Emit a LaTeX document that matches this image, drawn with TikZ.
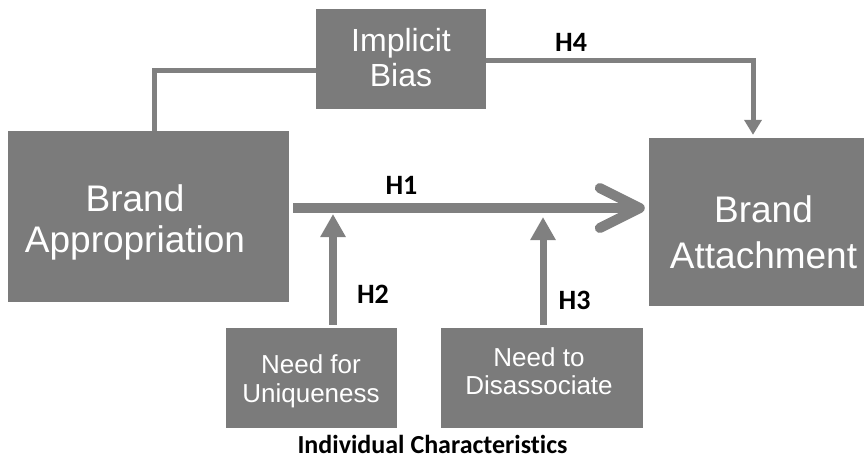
\documentclass[tikz,border=0pt]{standalone}
\usepackage{fontspec}
\setmainfont{Liberation Sans}
\newfontfamily\calib[Ligatures=NoCommon]{Carlito}
\usetikzlibrary{arrows.meta}
\definecolor{boxgray}{RGB}{123,123,123}
\definecolor{linegray}{RGB}{128,128,128}
\begin{document}
\begin{tikzpicture}[x=1pt,y=-1pt,
  box/.style={fill=boxgray,draw=none,inner sep=0pt},
  txt/.style={text=white,align=center,inner sep=0pt},
  hlab/.style={font=\calib\bfseries\fontsize{28}{30}\selectfont,inner sep=0pt},
  conn/.style={draw=linegray,line width=5pt},
  uparrow/.style={draw=linegray,-{Triangle[width=24pt,length=23pt]}}]
\useasboundingbox (0,0) rectangle (866,464);
% boxes
\node[box,minimum width=170pt,minimum height=100pt] (ib) at (401,59) {};
\node[txt,font=\fontsize{32}{35}\selectfont] (ibt) at (401,58) {Implicit\\Bias};
\node[box,minimum width=281pt,minimum height=171pt] (ba) at (148.5,216.5) {};
\node[txt,font=\fontsize{37}{41}\selectfont] (bat) at (135,222) {Brand\\Appropriation};
\node[box,minimum width=215pt,minimum height=168pt] (bt) at (756.5,222) {};
\node[txt,font=\fontsize{37}{46}\selectfont] (btt) at (763.5,232) {Brand\\Attachment};
\node[box,minimum width=171pt,minimum height=100pt] (nu) at (311.5,378) {};
\node[txt,font=\fontsize{26}{29}\selectfont] (nut) at (311,381) {Need for\\Uniqueness};
\node[box,minimum width=202pt,minimum height=100pt] (nd) at (542,378) {};
\node[txt,font=\fontsize{26}{28}\selectfont] (ndt) at (539,371.5) {Need to\\Disassociate};
% connectors
\draw[conn] ([yshift=-11pt]ib.west) -| ([xshift=5.5pt]ba.north);
\draw[conn,-{Triangle[width=17pt,length=15pt]},shorten >=3pt] ([yshift=-1pt]ib.east) -| ([xshift=-3.5pt]bt.north);
\draw[draw=linegray,line width=10pt,-{Straight Barb[length=40pt,width=40pt,round]},shorten <=4pt,shorten >=4pt] ([yshift=8.5pt]ba.east) -- ([yshift=14pt]bt.west);
\coordinate (h2tip) at (333,214);
\coordinate (h3tip) at (543,217);
\draw[uparrow,line width=8pt,shorten <=3pt] ([xshift=21.5pt]nu.north) -- (h2tip);
\draw[uparrow,line width=7pt,shorten <=3pt] ([xshift=1pt]nd.north) -- (h3tip);
% labels
\node[hlab] (h1) at (401.5,185.5) {H1};
\node[hlab] (h2) at (373,294) {H2};
\node[hlab] (h3) at (574.5,300) {H3};
\node[hlab] (h4) at (571,42) {H4};
\node[font=\calib\bfseries\fontsize{26}{28}\selectfont,inner sep=0pt] (ic) at (432.5,444) {Individual Characteristics};
\end{tikzpicture}
\end{document}
